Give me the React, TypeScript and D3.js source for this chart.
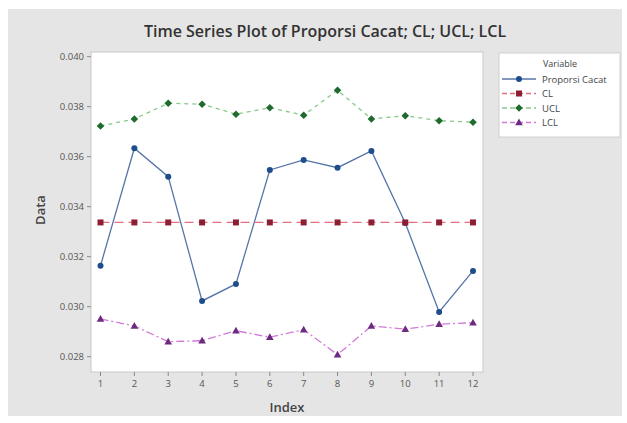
import React from "react";
import * as d3 from "d3";

const indices = [1, 2, 3, 4, 5, 6, 7, 8, 9, 10, 11, 12];
const proporsi = [0.03164, 0.03634, 0.0352, 0.03023, 0.03091, 0.03547, 0.03587, 0.03556, 0.03623, 0.03335, 0.02979, 0.03143];
const cl = [0.03337, 0.03337, 0.03337, 0.03337, 0.03337, 0.03337, 0.03337, 0.03337, 0.03337, 0.03337, 0.03337, 0.03337];
const ucl = [0.03723, 0.03751, 0.03814, 0.0381, 0.0377, 0.03796, 0.03766, 0.03866, 0.03751, 0.03764, 0.03744, 0.03738];
const lcl = [0.02951, 0.02923, 0.0286, 0.02864, 0.02904, 0.02878, 0.02908, 0.02808, 0.02923, 0.0291, 0.0293, 0.02936];
const yTicks = [0.028, 0.03, 0.032, 0.034, 0.036, 0.038, 0.04];
const seriesNames = ["Proporsi Cacat", "CL", "UCL", "LCL"];

const FONT = "'Open Sans', 'Noto Sans', sans-serif";

const plot = { left: 91, top: 52, right: 483, bottom: 372 };

const x = d3.scaleLinear().domain([1, 12]).range([100.5, 473]);
const y = d3.scaleLinear().domain([0.028, 0.04]).range([356.7, 56.7]);

type Series = {
  name: string;
  values: number[];
  line: string;
  marker: string;
  dash: string;
  shape: string;
};

const series: Series[] = [
  { name: seriesNames[0], values: proporsi, line: "#5675a8", marker: "#1d4d8a", dash: "", shape: "circle" },
  { name: seriesNames[1], values: cl, line: "#e0707f", marker: "#8e1f33", dash: "9,5", shape: "square" },
  { name: seriesNames[2], values: ucl, line: "#86c98a", marker: "#1f6a2c", dash: "4,4", shape: "diamond" },
  { name: seriesNames[3], values: lcl, line: "#d27ad8", marker: "#6e2a80", dash: "8,3,2,3", shape: "triangle" },
];

function Marker({ shape, cx, cy, color }: { shape: string; cx: number; cy: number; color: string }) {
  if (shape === "circle") return <circle cx={cx} cy={cy} r={3} fill={color} />;
  if (shape === "square") return <rect x={cx - 3} y={cy - 3} width={6} height={6} fill={color} />;
  if (shape === "diamond")
    return <path d={`M${cx},${cy - 3.8}L${cx + 3.8},${cy}L${cx},${cy + 3.8}L${cx - 3.8},${cy}Z`} fill={color} />;
  return <path d={`M${cx},${cy - 4}L${cx + 3.8},${cy + 2.8}L${cx - 3.8},${cy + 2.8}Z`} fill={color} />;
}

export default function App() {
  const line = d3
    .line<number>()
    .x((_, i) => x(indices[i]))
    .y((d) => y(d));

  const legendX = 502;
  const legendY0 = 79;
  const legendStep = 14.5;

  return (
    <div style={{ position: "absolute", left: 0, top: 0 }}>
      <svg width={627} height={423} style={{ display: "block" }}>
        <rect x={0} y={0} width={627} height={423} fill="#ffffff" />
        <rect x={8} y={9} width={614} height={407} fill="#e5e5e5" />
        <text x={325} y={37} textAnchor="middle" fontFamily={FONT} fontWeight={600} fontSize={16} fill="#333">
          Time Series Plot of Proporsi Cacat; CL; UCL; LCL
        </text>
        <rect
          x={plot.left}
          y={plot.top}
          width={plot.right - plot.left}
          height={plot.bottom - plot.top}
          fill="#ffffff"
          stroke="#c9c9c9"
          strokeWidth={1}
        />
        {yTicks.map((t) => (
          <g key={t}>
            <line x1={plot.left - 4} x2={plot.left} y1={y(t)} y2={y(t)} stroke="#888" />
            <text x={plot.left - 7} y={y(t) + 3.5} textAnchor="end" fontFamily={FONT} fontSize={9.5} fill="#555">
              {d3.format(".3f")(t)}
            </text>
          </g>
        ))}
        {indices.map((t) => (
          <g key={t}>
            <line x1={x(t)} x2={x(t)} y1={plot.bottom} y2={plot.bottom + 4} stroke="#888" />
            <text x={x(t)} y={plot.bottom + 15} textAnchor="middle" fontFamily={FONT} fontSize={9.5} fill="#555">
              {t}
            </text>
          </g>
        ))}
        <text x={287} y={412} textAnchor="middle" fontFamily={FONT} fontWeight={600} fontSize={13} fill="#444">
          Index
        </text>
        <text
          transform={`translate(45,210) rotate(-90)`}
          textAnchor="middle"
          fontFamily={FONT}
          fontWeight={600}
          fontSize={13}
          fill="#444"
        >
          Data
        </text>
        {series.map((s) => (
          <g key={s.name}>
            <path
              d={line(s.values) || ""}
              fill="none"
              stroke={s.line}
              strokeWidth={1.3}
              strokeDasharray={s.dash || undefined}
            />
            {s.values.map((v, i) => (
              <Marker key={i} shape={s.shape} cx={x(indices[i])} cy={y(v)} color={s.marker} />
            ))}
          </g>
        ))}
        <rect x={499} y={53} width={121} height={84} fill="#ffffff" stroke="#d0d0d0" />
        <text x={560} y={67} textAnchor="middle" fontFamily={FONT} fontSize={9} fill="#444">
          Variable
        </text>
        {series.map((s, i) => {
          const ly = legendY0 + i * legendStep;
          return (
            <g key={s.name}>
              <line
                x1={legendX}
                x2={legendX + 34}
                y1={ly}
                y2={ly}
                stroke={s.line}
                strokeWidth={1.3}
                strokeDasharray={s.dash ? "5,3" : undefined}
              />
              <Marker shape={s.shape} cx={legendX + 17} cy={ly} color={s.marker} />
              <text x={legendX + 40} y={ly + 3.5} fontFamily={FONT} fontSize={9.5} fill="#444">
                {s.name}
              </text>
            </g>
          );
        })}
      </svg>
    </div>
  );
}
